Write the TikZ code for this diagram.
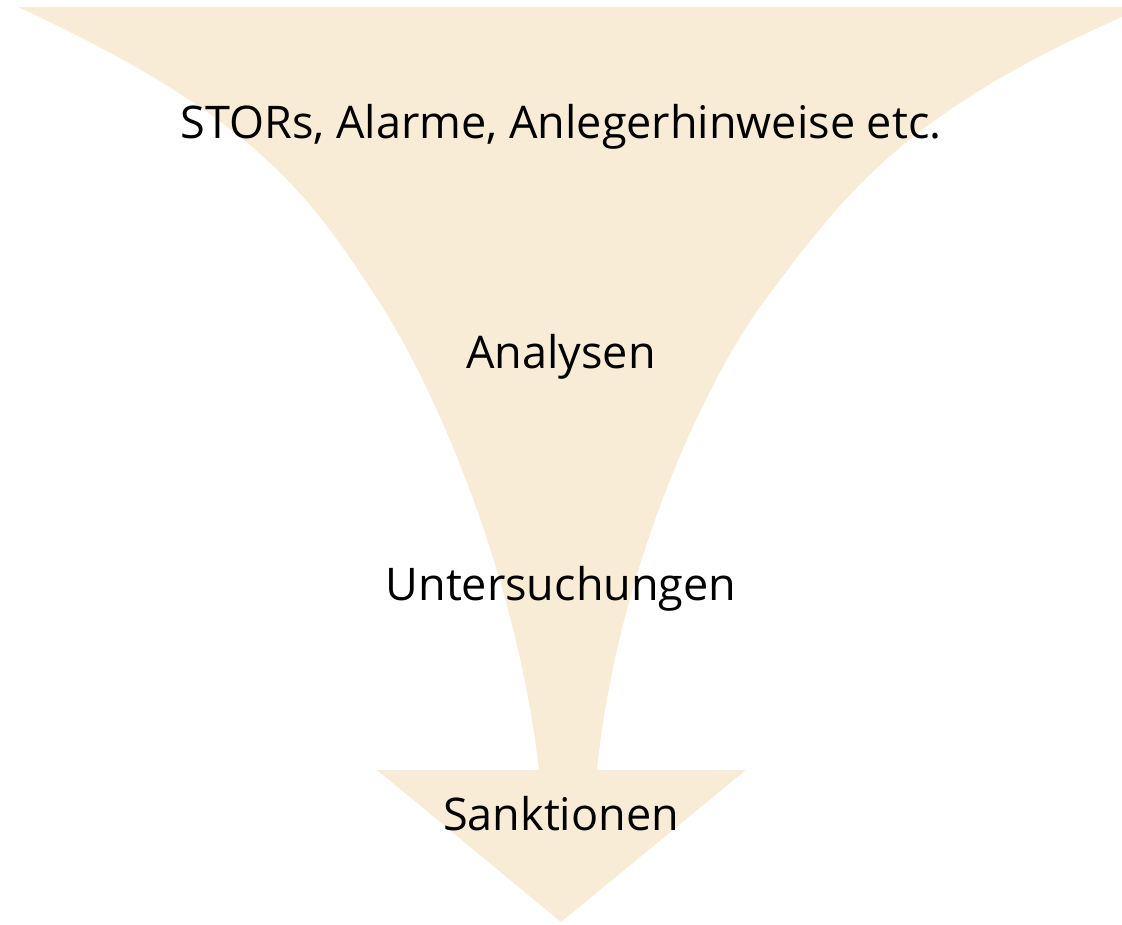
\documentclass[tikz,border=0pt]{standalone}
\usepackage{fontspec}
\setmainfont{Open Sans}
\usepackage{tikz}
\usetikzlibrary{positioning}
\definecolor{trichterBeige}{RGB}{249, 236, 214}

\begin{document}
\begin{tikzpicture}[x=1pt,y=-1pt,
    stufe/.style={font=\fontsize{45}{54}\selectfont,anchor=base,inner sep=0pt}]
        \useasboundingbox (0,0) rectangle (1122,924);
        % Trichter mit Pfeilspitze
        \fill[trichterBeige]
          (18,7) -- (1122,7) -- (1122,17)
          .. controls (902,114) and (843,196) .. (765,300)
          .. controls (705,380) and (617,571) .. (597,770)
          -- (746,770) -- (561,922) -- (377,770) -- (539,770)
          .. controls (516,571) and (433,384) .. (378,300)
          .. controls (312,200) and (263,120) .. (18,7) -- cycle;
        % Stufen
        \node[stufe] (stors) at (561,138) {STORs, Alarme, Anlegerhinweise etc.};
        \node[stufe] (analysen) at (561,368) {Analysen};
        \node[stufe] (untersuchungen) at (561,600) {Untersuchungen};
        \node[stufe] (sanktionen) at (561,830) {Sanktionen};
      \end{tikzpicture}
\end{document}
